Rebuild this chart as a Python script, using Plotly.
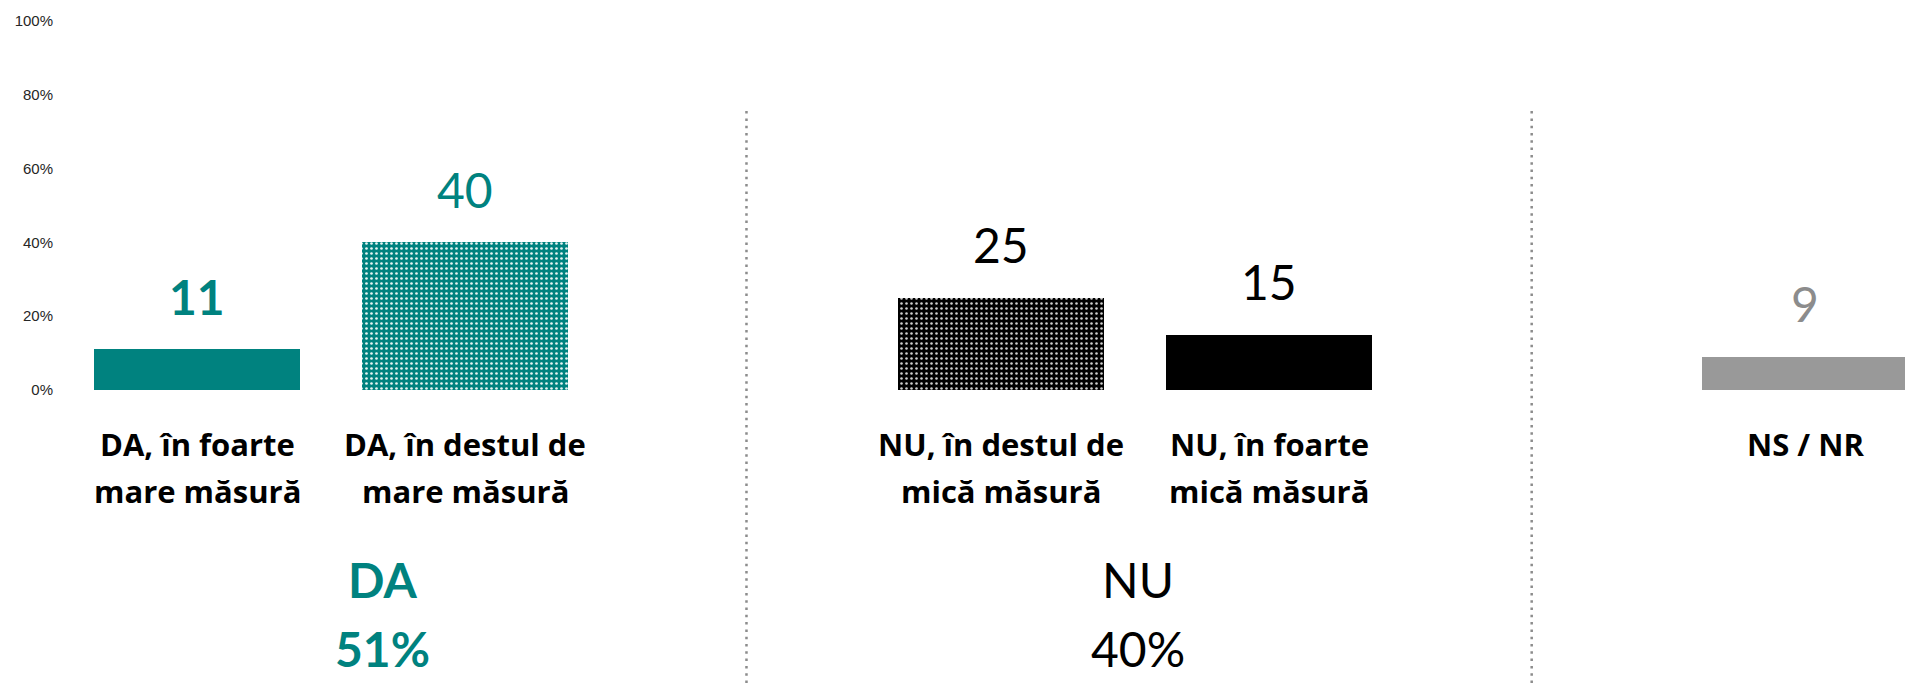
import plotly.graph_objects as go

# ---- data ----
categories = [
    "DA, în foarte<br>mare măsură",
    "DA, în destul de<br>mare măsură",
    "NU, în destul de<br>mică măsură",
    "NU, în foarte<br>mică măsură",
    "NS / NR",
]
values = [11, 40, 25, 15, 9]
group_names = ["DA", "NU"]
group_totals = [51, 40]
y_ticks = [0, 20, 40, 60, 80, 100]
y_tick_labels = ["0%", "20%", "40%", "60%", "80%", "100%"]

# ---- layout / style (not data) ----
slot_pos = [0, 1, 3, 4, 6]          # category slots
divider_pos = [2.05, 4.98]
group_label_pos = [0.69, 3.51]
bar_width = 0.77
TEAL = "#00827F"
bar_colors = [TEAL, TEAL, "#000000", "#000000", "#999999"]
patterns = [None, "teal_dots", "black_dots", None, None]
value_colors = [TEAL, TEAL, "#000000", "#000000", "#8C8C8C"]
value_bold = [True, False, False, False, False]
group_colors = [TEAL, "#000000"]
group_bold = [True, False]
FONT = "Lato"
LABEL_FONT = "Open Sans"

fig = go.Figure()
for i, (cat, v) in enumerate(zip(categories, values)):
    marker = dict(color=bar_colors[i], line=dict(width=0))
    if patterns[i] == "teal_dots":
        marker["pattern"] = dict(shape=".", bgcolor=TEAL, fgcolor="#e8f4f4",
                                 size=5, solidity=0.22, fillmode="replace")
    elif patterns[i] == "black_dots":
        marker["pattern"] = dict(shape=".", bgcolor="#000000", fgcolor="#d0d0d0",
                                 size=5, solidity=0.2, fillmode="replace")
    fig.add_trace(go.Bar(x=[slot_pos[i]], y=[v], width=bar_width,
                         marker=marker, name=cat, showlegend=False,
                         hoverinfo="skip"))

annotations = []
for i, v in enumerate(values):
    txt = f"<b>{v}</b>" if value_bold[i] else str(v)
    annotations.append(dict(x=slot_pos[i], y=v, xref="x", yref="y", text=txt,
                            showarrow=False, yanchor="middle", yshift=53,
                            font=dict(family=FONT, size=48, color=value_colors[i])))
    for j, line in enumerate(categories[i].split("<br>")):
        annotations.append(dict(x=slot_pos[i], y=0, xref="x", yref="y",
                                text=f"<b>{line}</b>", showarrow=False,
                                yanchor="middle", yshift=-54 - 47 * j,
                                font=dict(family=LABEL_FONT, size=31, color="#000000")))

for g, name in enumerate(group_names):
    for j, txt in enumerate([name, f"{group_totals[g]}%"]):
        t = f"<b>{txt}</b>" if group_bold[g] else txt
        annotations.append(dict(x=group_label_pos[g], y=0, xref="x", yref="y",
                                text=t, showarrow=False, yanchor="middle",
                                yshift=-189 - 69 * j,
                                font=dict(family=FONT, size=48, color=group_colors[g])))

shapes = []
for d in divider_pos:
    shapes.append(dict(type="line", xref="x", yref="paper", x0=d, x1=d,
                       y0=0, y1=0.868,
                       line=dict(color="#8C8C8C", width=2.5, dash="2.5px,4.8px")))

fig.update_layout(
    width=1905, height=683,
    margin=dict(l=54, r=0, t=21, b=0),
    paper_bgcolor="white", plot_bgcolor="white",
    bargap=0,
    xaxis=dict(range=[-0.534, 6.373], showticklabels=False, showgrid=False,
               zeroline=False, showline=False, ticks=""),
    yaxis=dict(range=[-79.4, 100], tickvals=y_ticks, ticktext=y_tick_labels,
               showgrid=False, zeroline=False, showline=False, ticks="",
               tickfont=dict(family="Liberation Sans, Arial", size=15, color="#262626")),
    annotations=annotations,
    shapes=shapes,
)

fig.write_html("out.html", config={"displayModeBar": False},
               post_script="document.body.style.margin='0';document.body.style.overflow='hidden';")
